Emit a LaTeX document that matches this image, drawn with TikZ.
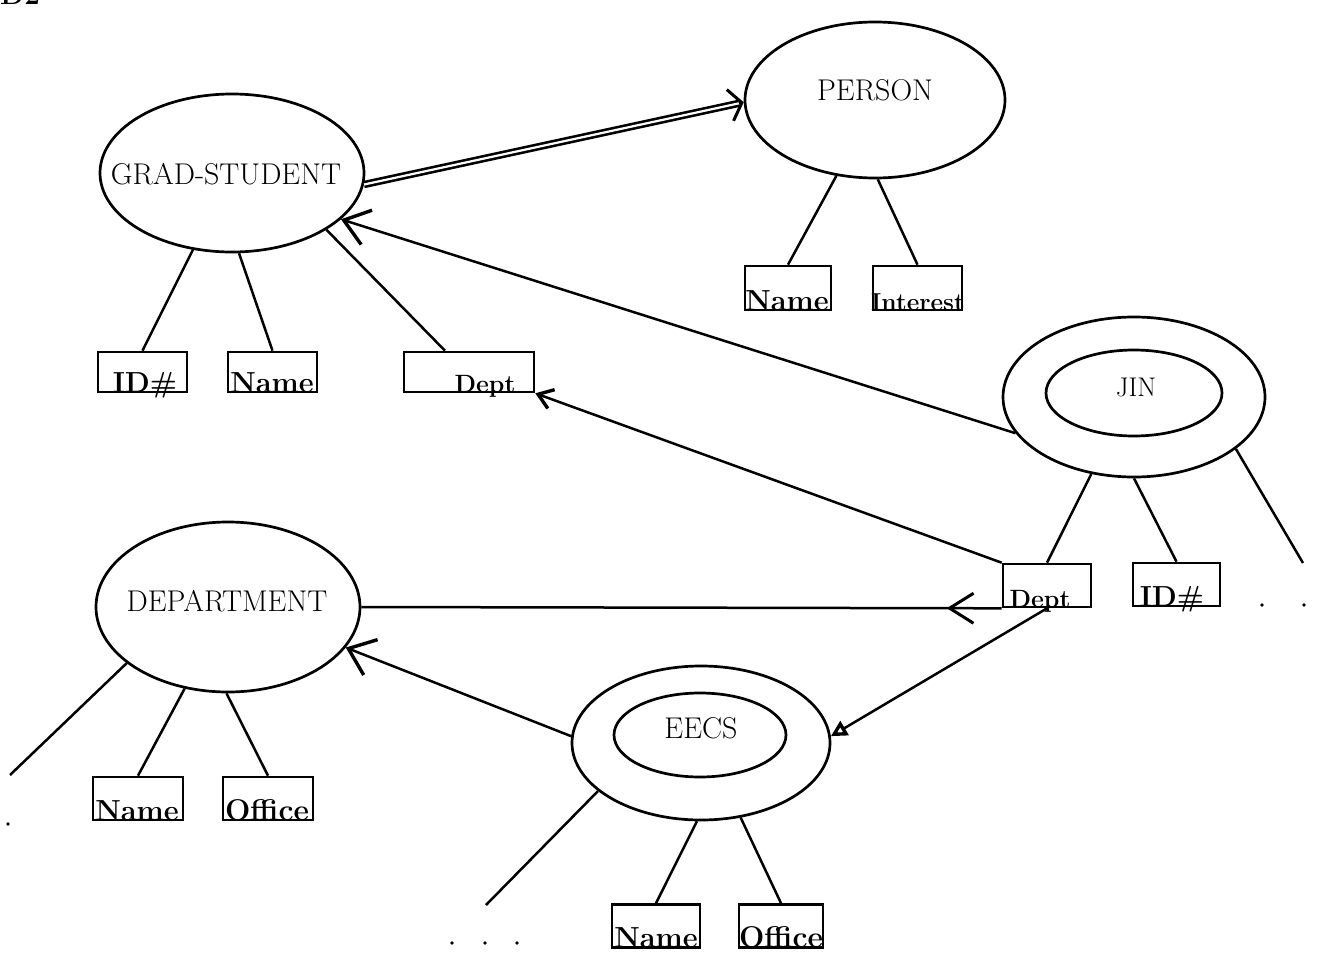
\documentclass[tikz,border=0pt]{standalone}
\usetikzlibrary{shapes.geometric,arrows.meta,decorations.markings}
\begin{document}
\begin{tikzpicture}[x=1pt,y=-1pt,
  ent/.style={draw, ellipse, line width=2.7pt, inner sep=0pt},
  attr/.style={draw, rectangle, line width=2.6pt, inner sep=0pt},
  ttl/.style={font=\fontsize{30}{32}\selectfont, inner sep=0pt},
  lbl/.style={font=\fontsize{29}{31}\selectfont\bfseries, anchor=base, inner sep=0pt},
  conn/.style={line width=2.5pt},
  dotn/.style={circle, fill, inner sep=0pt, minimum size=3.8pt},
]
\useasboundingbox (0,0) rectangle (1317,953);

% page tag, partly cut by the top edge
\node[anchor=base west, font=\fontsize{28}{30}\selectfont\bfseries, inner sep=0pt] (tag) at (0,5) {D2};

% entity sets
\node[ent, minimum width=264pt, minimum height=158pt] (gs) at (232,173) {};
\node[ttl] (gst) at (226,174) {GRAD-STUDENT};
\node[ent, minimum width=260pt, minimum height=156pt] (per) at (875,100) {};
\node[ttl] (pert) at (875,90) {PERSON};
\node[ent, minimum width=264pt, minimum height=170pt] (dep) at (228,607) {};
\node[ttl] (dept) at (227,601) {DEPARTMENT};

% instances (double ellipses)
\node[ent, minimum width=262pt, minimum height=160pt] (jin) at (1134,397) {};
\node[ent, minimum width=176pt, minimum height=86pt] (jinin) at (1134,393) {};
\node[ttl, font=\fontsize{27}{29}\selectfont] (jint) at (1136,387) {JIN};
\node[ent, minimum width=258pt, minimum height=154pt] (eecs) at (701,743) {};
\node[ent, minimum width=172pt, minimum height=84pt] (eecsin) at (700,735) {};
\node[ttl] (eecst) at (701,728) {EECS};

% attribute boxes
\node[attr, minimum width=89pt, minimum height=40pt] (gsid) at (142.5,372) {};
\node[attr, minimum width=89pt, minimum height=40pt] (gsname) at (272.5,372) {};
\node[attr, minimum width=130pt, minimum height=40pt] (gsdept) at (469,372) {};
\node[attr, minimum width=86pt, minimum height=44pt] (pname) at (788,288) {};
\node[attr, minimum width=89pt, minimum height=44pt] (pint) at (917.5,288) {};
\node[attr, minimum width=88pt, minimum height=43pt] (jdept) at (1047,585.5) {};
\node[attr, minimum width=87pt, minimum height=43pt] (jid) at (1176.5,584.5) {};
\node[attr, minimum width=90pt, minimum height=43pt] (dname) at (138,798.5) {};
\node[attr, minimum width=90pt, minimum height=43pt] (doff) at (268,798.5) {};
\node[attr, minimum width=88pt, minimum height=43pt] (ename) at (656,926) {};
\node[attr, minimum width=84pt, minimum height=43pt] (eoff) at (781,926) {};

% attribute labels, sitting on the bottom edge
\node[lbl] (gsidl) at (145,392) {ID\#};
\node[lbl] (gsnamel) at (272,392) {Name};
\node[lbl, font=\fontsize{25}{27}\selectfont\bfseries] (gsdeptl) at (485,392) {Dept};
\node[lbl] (pnamel) at (787,310) {Name};
\node[lbl, font=\fontsize{24.5}{26}\selectfont\bfseries] (pintl) at (918,310) {Interest};
\node[lbl, font=\fontsize{25}{27}\selectfont\bfseries] (jdeptl) at (1040,607) {Dept};
\node[lbl] (jidl) at (1172,606) {ID\#};
\node[lbl] (dnamel) at (137,820) {Name};
\node[lbl, font=\fontsize{30}{32}\selectfont\bfseries] (doffl) at (267,820) {Office};
\node[lbl] (enamel) at (656,947) {Name};
\node[lbl, font=\fontsize{30}{32}\selectfont\bfseries] (eoffl) at (781,947) {Office};

% attribute links
\draw[conn] (gs.243) -- (gsid.north);
\draw[conn] (gs.275) -- (gsname.north);
\draw[conn] (gs.329) -- ([xshift=-24pt]gsdept.north);
\draw[conn] (per.243) -- (pname.north);
\draw[conn] (per.272) -- (pint.north);
\draw[conn] (jin.241) -- (jdept.north);
\draw[conn] (jin.270) -- (jid.north);
\coordinate (jinx) at (1303,563);
\draw[conn] (jin.333) -- (jinx);
\coordinate (depx) at (10,775);
\draw[conn] (dep.209) -- (depx);
\draw[conn] (dep.242) -- (dname.north);
\draw[conn] (dep.269) -- (doff.north);
\coordinate (eecsx) at (486,905);
\draw[conn] (eecs.205) -- (eecsx);
\draw[conn] (eecs.267) -- (ename.north);
\draw[conn] (eecs.298) -- (eoff.north);

% more attributes follow
\node[dotn] (jd1) at (1262,605) {};
\node[dotn] (jd2) at (1304,605) {};
\node[dotn] (dd1) at (8,824) {};
\node[dotn] (ed1) at (452,943) {};
\node[dotn] (ed2) at (485,943) {};
\node[dotn] (ed3) at (517,943) {};

% is-a link (double line)
\draw[conn, -{Straight Barb[length=12pt,width=32pt,line width=3pt]}] (gs.355) -- (per.181);
\draw[line width=2.6pt, double, double distance=2.2pt, shorten >=5pt] (gs.355) -- (per.181);

% instance-of and value links
\draw[conn, -{Straight Barb[length=24pt,width=36pt,line width=3.4pt]}] (jin.197) -- (gs.337);
\draw[conn, -{Straight Barb[length=14pt,width=20pt,line width=3.4pt]}] (jdept.north west) -- (gsdept.south east);
\draw[conn, postaction={decorate}, decoration={markings,
  mark=at position 55pt with {\arrow{Straight Barb[length=24pt,width=30pt,line width=3pt]}}}]
  (jdept.south west) -- (dep.east);
\draw[conn, -{Straight Barb[length=24pt,width=38pt,line width=3.4pt]}] (eecs.177) -- (dep.341);
\draw[conn, -{Triangle[open,length=16pt,width=16pt,line width=3.4pt]}] (jdept.south) -- (eecs.3);
\end{tikzpicture}
\end{document}
